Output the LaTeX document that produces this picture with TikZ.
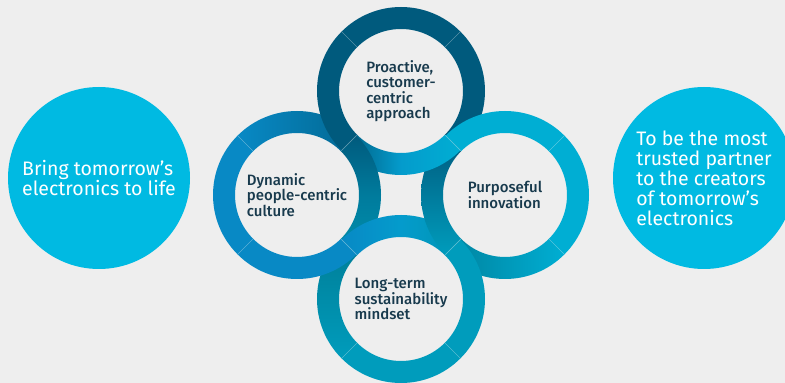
\documentclass[tikz,border=0pt]{standalone}
\usepackage{fontspec}
\setmainfont{Fira Sans}
\newfontfamily\mediumfont{Fira Sans Medium}
\usepackage{tikz}
\definecolor{backdrop}{HTML}{EEEEEE}
\definecolor{sky}{HTML}{00BAE2}
\definecolor{petrol}{HTML}{005A7D}
\definecolor{ocean}{HTML}{0889C5}
\definecolor{aqua}{HTML}{00AED3}
\definecolor{lagoon}{HTML}{009CBC}
\definecolor{ink}{HTML}{183A4D}
\colorlet{midteal}{petrol!50!lagoon}
\colorlet{bluecyan}{ocean!50!aqua}
\tikzset{
    mission-disc/.style = {circle, fill=sky, minimum size=182pt, inner sep=0pt, text=white, align=left, font=\fontsize{19.5}{20}\selectfont},
    ring-label/.style = {text=ink, align=left, font=\mediumfont\fontsize{15}{15.5}\selectfont},
    seam/.style = {draw=white, draw opacity=0.22, line width=0.4pt},
}
\newcommand{\ringpart}[4]{%
  \path[#4, shift={(#1)}] (#2:84) arc[start angle=#2, end angle=#3, radius=84]
    -- (#3:62) arc[start angle=#3, end angle=#2, radius=62] -- cycle;}

\begin{document}
\begin{tikzpicture}[x=1pt, y=1pt]
\useasboundingbox (0,0) rectangle (785,383);
\clip (0,0) rectangle (785,383);
\fill[backdrop] (0,0) rectangle (785,383);

\node[mission-disc] (purpose) at (99,205) {Bring tomorrow’s\\electronics to life};
\node[mission-disc] (vision) at (704,205) {To be the most\\trusted partner\\to the creators\\of tomorrow’s\\electronics};

\coordinate (proactive) at (401,292);
\coordinate (dynamic) at (297,188);
\coordinate (purposeful) at (505,188);
\coordinate (longterm) at (401,84);

% outer quarters
\ringpart{proactive}{45}{135}{fill=petrol}
\ringpart{dynamic}{135}{225}{fill=ocean}
\ringpart{purposeful}{-45}{45}{fill=aqua}
\ringpart{longterm}{225}{315}{fill=lagoon}

% quarters going under at a crossing
\ringpart{dynamic}{45}{135}{left color=ocean, middle color=ocean, right color=petrol!70!ocean}
\ringpart{proactive}{225}{270}{left color=petrol, right color=bluecyan}
\ringpart{proactive}{-45}{45}{fill=petrol}
\ringpart{purposeful}{135}{180}{top color=petrol, bottom color=midteal}
\ringpart{dynamic}{-45}{0}{top color=midteal, bottom color=lagoon!92!black}
\ringpart{longterm}{135}{225}{top color=lagoon!80!black, bottom color=lagoon}
\ringpart{longterm}{45}{90}{left color=bluecyan, right color=lagoon!95!black}
\ringpart{purposeful}{225}{315}{left color=aqua!75!black, middle color=aqua, right color=aqua}

% quarters going over
\ringpart{proactive}{135}{225}{fill=petrol}
\ringpart{dynamic}{0}{45}{top color=petrol, bottom color=midteal}
\ringpart{proactive}{270}{315}{left color=bluecyan, right color=aqua}
\ringpart{purposeful}{45}{135}{fill=aqua}
\ringpart{dynamic}{225}{315}{fill=ocean}
\ringpart{longterm}{90}{135}{left color=ocean, right color=bluecyan}
\ringpart{purposeful}{180}{225}{top color=midteal, bottom color=lagoon}
\ringpart{longterm}{-45}{45}{fill=lagoon}

\foreach \ring in {proactive,dynamic,purposeful,longterm}
  \foreach \a in {45,135,225,315}
    \draw[seam, shift={(\ring)}] (\a:62) -- (\a:84);

\node[ring-label] (proactive-text) at (proactive) {Proactive,\\customer-\\centric\\approach};
\node[ring-label] (dynamic-text) at (dynamic) {Dynamic\\people-centric\\culture};
\node[ring-label] (purposeful-text) at (purposeful) {Purposeful\\innovation};
\node[ring-label] (longterm-text) at (longterm) {Long-term\\sustainability\\mindset};
\end{tikzpicture}
\end{document}
